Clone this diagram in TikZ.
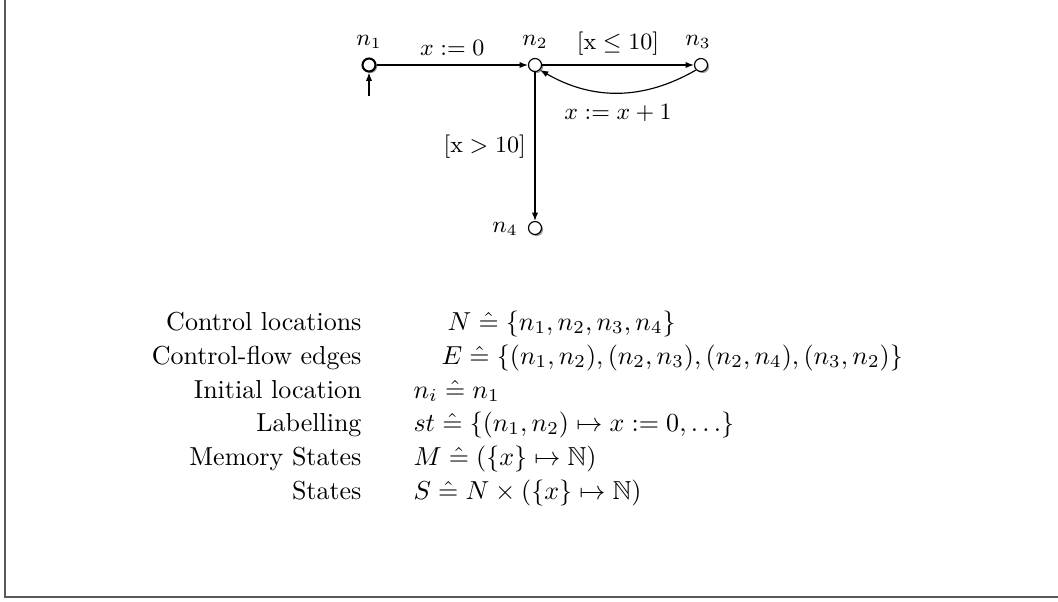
\documentclass[tikz,border=0pt]{standalone}
\usepackage{amssymb}
\usetikzlibrary{arrows.meta,shadows}
\newcommand{\hateq}{\mathrel{\hat{=}}}
\begin{document}
\begin{tikzpicture}[x=0.3846pt,y=-0.3846pt,
  loc/.style={circle,draw,fill=white,inner sep=0pt,minimum size=5pt,line width=0.45pt,
    drop shadow={shadow xshift=0.6pt,shadow yshift=-0.6pt,fill=gray!80,opacity=1}},
  edge/.style={draw,line width=0.45pt,-{Latex[length=3.2pt,width=2.4pt]}},
  lab/.style={font=\small},
  row/.style={font=\normalsize,inner sep=0pt,text height=7pt,text depth=1.5pt},
]
\useasboundingbox (0,0) rectangle (1058,601);
\draw[line width=0.45pt,gray!70!black] (5,0) -- (5,597) -- (1058,597);
% locations
\node[loc,line width=0.8pt] (n1) at (369,65) {};
\node[loc] (n2) at (535,65) {};
\node[loc] (n3) at (701,65) {};
\node[loc] (n4) at (535,228) {};
\node[lab] (l1) at (369,42) {$n_1$};
\node[lab] (l2) at (535,42) {$n_2$};
\node[lab] (l3) at (698,42) {$n_3$};
\node[lab,anchor=east] (l4) at (527,229) {$n_4$};
\coordinate (init) at (369,96);
\draw[edge] (init) -- (n1);
\draw[edge] (n1) -- node[lab,above] {$x:=0$} (n2);
\draw[edge] (n2) -- node[lab,above] {$[\mathrm{x}\leq 10]$} (n3);
\draw[edge] (n3.south west) to[out=-150,in=-30] node[lab,below=1pt] {$x:=x+1$} (n2.south east);
\draw[edge] (n2) -- node[lab,left,pos=0.5] {$[\mathrm{x}>10]$} (n4);
% table
\node[row,anchor=base east] (c1) at (362,330) {Control locations};
\node[row,anchor=base east] (c2) at (362,364) {Control-flow edges};
\node[row,anchor=base east] (c3) at (362,398) {Initial location};
\node[row,anchor=base east] (c4) at (362,431) {Labelling};
\node[row,anchor=base east] (c5) at (362,465) {Memory States};
\node[row,anchor=base east] (c6) at (362,499) {States};
\node[row,anchor=base west] (d1) at (447,330) {$N\hateq\{n_1,n_2,n_3,n_4\}$};
\node[row,anchor=base west] (d2) at (441,364) {$E\hateq\{(n_1,n_2),(n_2,n_3),(n_2,n_4),(n_3,n_2)\}$};
\node[row,anchor=base west] (d3) at (413,398) {$n_i\hateq n_1$};
\node[row,anchor=base west] (d4) at (413,431) {$st\hateq\{(n_1,n_2)\mapsto x:=0,\ldots\}$};
\node[row,anchor=base west] (d5) at (413,465) {$M\hateq(\{x\}\mapsto\mathbb{N})$};
\node[row,anchor=base west] (d6) at (413,499) {$S\hateq N\times(\{x\}\mapsto\mathbb{N})$};
\end{tikzpicture}
\end{document}
